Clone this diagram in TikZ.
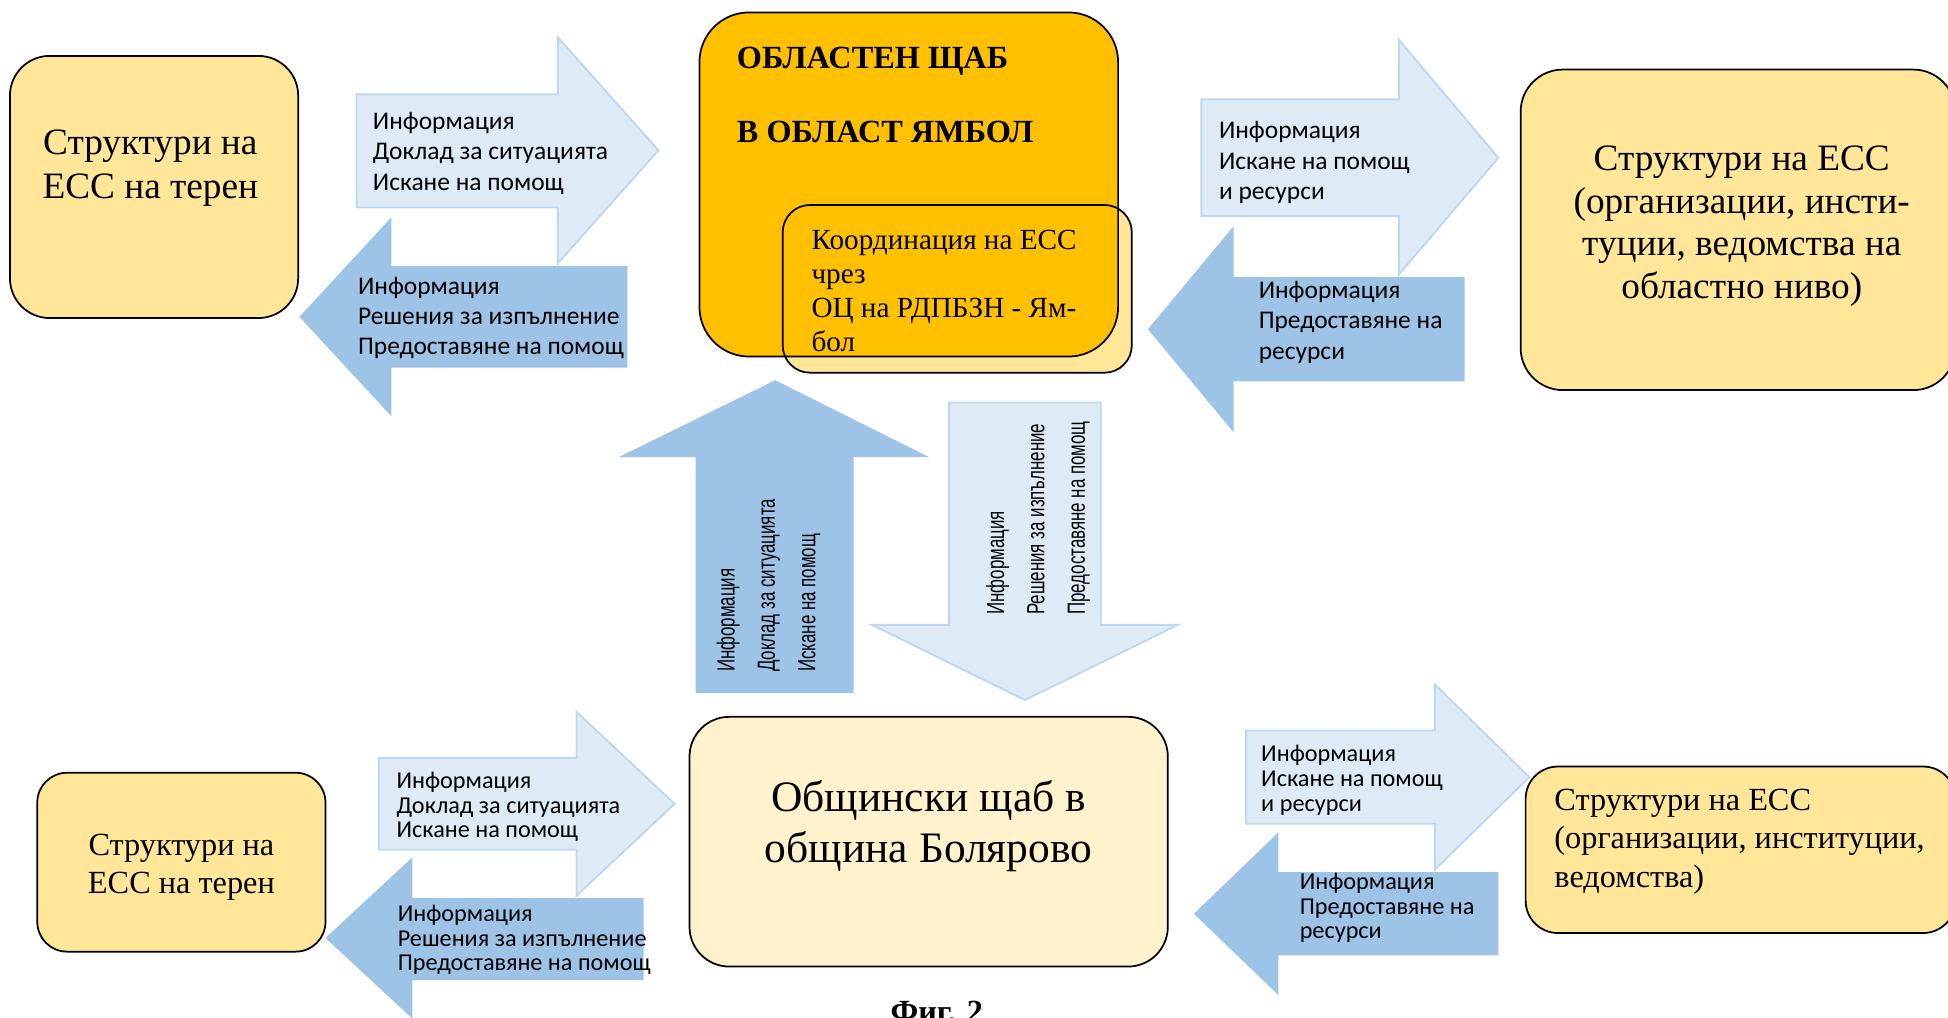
\documentclass[tikz,border=0pt]{standalone}
\usepackage{fontspec}
\setmainfont{Liberation Serif}
\newfontfamily\calibri{Carlito}
\newfontfamily\narrowsans[FakeStretch=0.68]{Liberation Sans}

\definecolor{gold}{HTML}{FFE699}
\definecolor{amber}{HTML}{FFC000}
\definecolor{cream}{HTML}{FFF2CC}
\definecolor{paleblue}{HTML}{DEEBF7}
\definecolor{paleedge}{HTML}{BDD7EE}
\definecolor{midblue}{HTML}{9DC3E6}

\begin{document}
\begin{tikzpicture}[x=1pt, y=-1pt,
    box/.style={draw, line width=1.4pt, rounded corners=#1, inner sep=0pt},
    box/.default=30pt,
    lightarrow/.style={fill=paleblue, draw=paleedge, line width=1.5pt},
    darkarrow/.style={fill=midblue},
    txt/.style={inner sep=0pt, align=#1},
    txt/.default=left,
    armtext/.style={txt, anchor=west, font=\calibri\fontsize{20.5}{24.5}\selectfont},
    armsmall/.style={txt, anchor=west, font=\calibri\fontsize{19.5}{19.8}\selectfont},
    armvert/.style={txt, anchor=west, rotate=90, font=\narrowsans\fontsize{20}{32.5}\selectfont}]
    \useasboundingbox (0,0) rectangle (1568,819);

    % boxes
    \node[box=32pt, fill=gold, minimum width=232pt, minimum height=211pt] (fieldtop) at (124,150.5) {};
    \node[box=22pt, draw=none, fill=gold, minimum width=281pt, minimum height=135pt] (coordfill) at (770.5,232.5) {};
    \node[box=40pt, fill=amber, minimum width=337pt, minimum height=277pt] (oblast) at (731.5,148.5) {};
    \node[box=22pt, minimum width=281pt, minimum height=135pt] (coord) at (770.5,232.5) {};
    \node[box=34pt, fill=gold, minimum width=350pt, minimum height=258pt] (regionorgs) at (1399,185) {};
    \node[box=32pt, fill=cream, minimum width=385pt, minimum height=201pt] (obshtina) at (747.5,677.5) {};
    \node[box=24pt, fill=gold, minimum width=232pt, minimum height=144pt] (fieldbottom) at (146,694) {};
    \node[box=26pt, fill=gold, minimum width=346pt, minimum height=134pt] (municipalorgs) at (1401,684) {};

    \node[txt=center, font=\fontsize{30}{35}\selectfont] (fieldtoptext) at (121,135.5) {Структури на\\ЕСС на терен};
    \node[txt, anchor=west, font=\bfseries\fontsize{26}{30}\selectfont] (oblasttext) at (593,76.7) {ОБЛАСТЕН ЩАБ\\[29.4pt]В ОБЛАСТ ЯМБОЛ};
    \node[txt, anchor=west, font=\fontsize{23.5}{27.3}\selectfont] (coordtext) at (653,234) {Координация на ЕСС\\чрез\\ОЦ на РДПБЗН - Ям-\\бол};
    \node[txt=center, font=\fontsize{30}{34.3}\selectfont] (regionorgstext) at (1402,182) {Структури на ЕСС\\(организации, инсти-\\туции, ведомства на\\областно ниво)};
    \node[txt=center, font=\fontsize{35}{40.5}\selectfont] (obshtinatext) at (747.5,665) {Общински щаб в\\община Болярово};
    \node[txt=center, font=\fontsize{26}{31}\selectfont] (fieldbottomtext) at (146,698) {Структури на\\ЕСС на терен};
    \node[txt, anchor=west, font=\fontsize{26}{31}\selectfont] (municipalorgstext) at (1251,677.5) {Структури на ЕСС\\(организации, институции,\\ведомства)};

    % block arrows
    \draw[lightarrow] (287,76) -- (449,76) -- (449,30) -- (530,121) -- (449,212) -- (449,167) -- (287,167) -- cycle;
    \fill[darkarrow] (505,214) -- (315,214) -- (315,175) -- (241,255) -- (315,335) -- (315,296) -- (505,296) -- cycle;
    \draw[lightarrow] (967,80) -- (1126,80) -- (1126,32) -- (1206,127) -- (1126,221) -- (1126,174) -- (967,174) -- cycle;
    \fill[darkarrow] (1179,223) -- (993,223) -- (993,182) -- (924,265) -- (993,348) -- (993,307) -- (1179,307) -- cycle;
    \draw[lightarrow] (764,324) -- (886,324) -- (886,503) -- (948,503) -- (825,563.5) -- (702,503) -- (764,503) -- cycle;
    \fill[darkarrow] (560,558) -- (560,368) -- (498,368) -- (624,306) -- (748,368) -- (687,368) -- (687,558) -- cycle;
    \draw[lightarrow] (305,610) -- (464,610) -- (464,573) -- (543,647) -- (464,721) -- (464,684) -- (305,684) -- cycle;
    \fill[darkarrow] (518,723) -- (332,723) -- (332,690) -- (262,755) -- (332,820) -- (332,789) -- (518,789) -- cycle;
    \draw[lightarrow] (1003,588) -- (1155,588) -- (1155,551) -- (1231,625.5) -- (1155,700) -- (1155,663) -- (1003,663) -- cycle;
    \fill[darkarrow] (1206,702) -- (1029,702) -- (1029,670) -- (961,735.5) -- (1029,801) -- (1029,769) -- (1206,769) -- cycle;

    \node[armtext] (upleft) at (300,123.5) {Информация\\Доклад за ситуацията\\Искане на помощ};
    \node[armtext] (downleft) at (288,256) {Информация\\Решения за изпълнение\\Предоставяне на помощ};
    \node[armtext] (upright) at (981,131) {Информация\\Искане на помощ\\и ресурси};
    \node[armtext] (downright) at (1013,259.5) {Информация\\Предоставяне на\\ресурси};
    \node[armvert] (upcenter) at (618.5,541) {Информация\\Доклад за ситуацията\\Искане на помощ};
    \node[armvert] (downcenter) at (835.5,495) {Информация\\Решения за изпълнение\\Предоставяне на помощ};
    \node[armsmall] (lowupleft) at (319,649.5) {Информация\\Доклад за ситуацията\\Искане на помощ};
    \node[armsmall] (lowdownleft) at (320,756.7) {Информация\\Решения за изпълнение\\Предоставяне на помощ};
    \node[armsmall] (lowupright) at (1015,628) {Информация\\Искане на помощ\\и ресурси};
    \node[armsmall] (lowdownright) at (1046,731) {Информация\\Предоставяне на\\ресурси};

    \node[txt, anchor=north, font=\bfseries\fontsize{26}{30}\selectfont] (figlabel) at (754,806) {Фиг. 2};
\end{tikzpicture}
\end{document}
